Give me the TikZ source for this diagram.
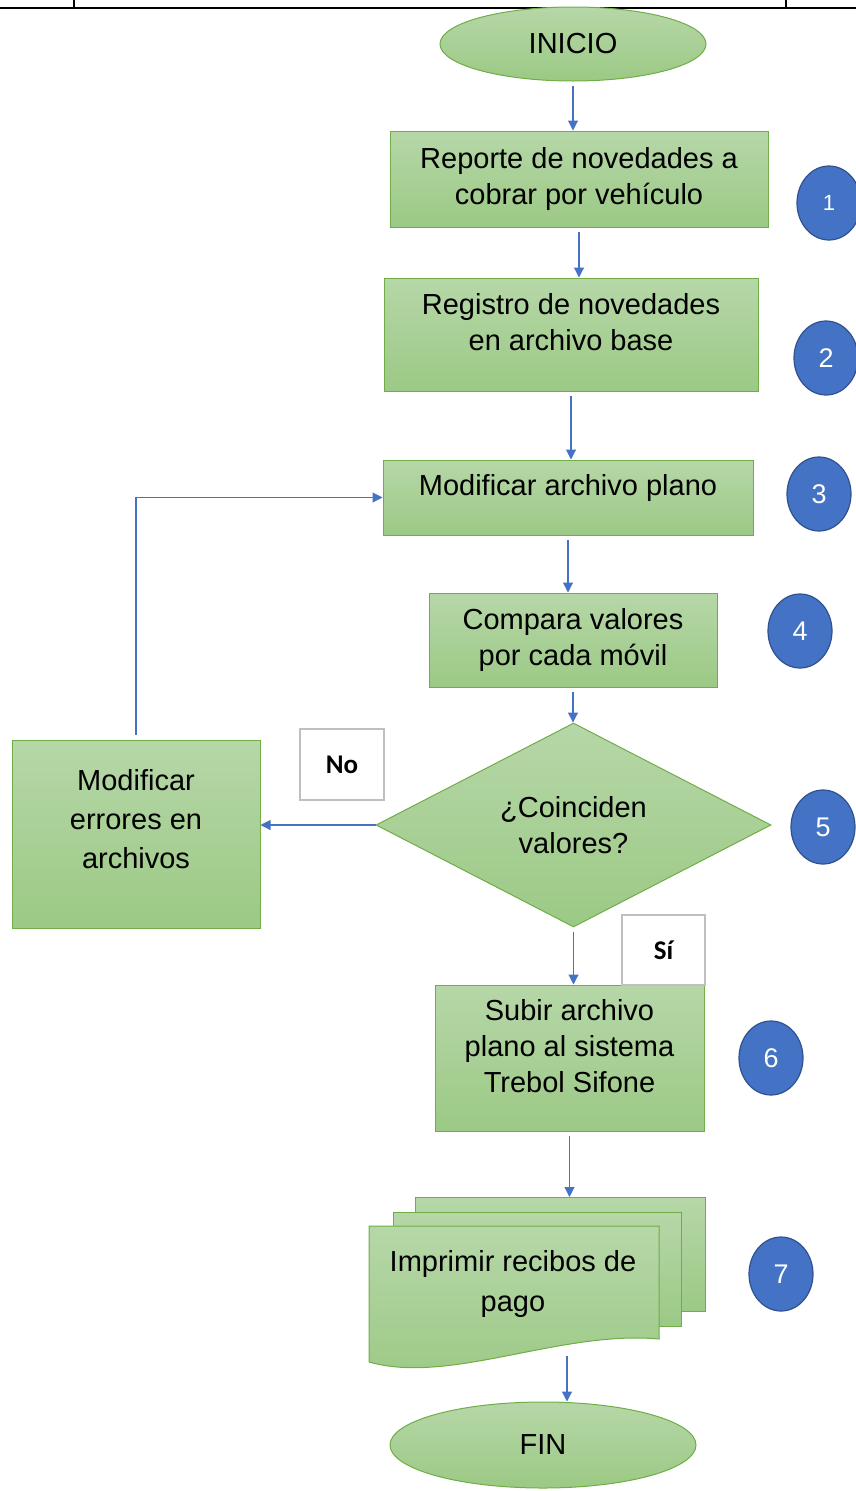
\documentclass[tikz,border=0pt]{standalone}
\usepackage{fontspec}
\setmainfont{Liberation Sans}
\newfontfamily\tagfont{Carlito}
\usetikzlibrary{arrows.meta,shapes.geometric}
\definecolor{GreenTop}{HTML}{B6D7A8}
\definecolor{GreenBot}{HTML}{9CC985}
\definecolor{GreenLine}{HTML}{70AD47}
\definecolor{Blue}{HTML}{4472C4}
\definecolor{BlueLine}{HTML}{2F528F}
\definecolor{Grey}{HTML}{BFBFBF}

\begin{document}
\begin{tikzpicture}[x=1pt,y=-1pt,
    proc/.style={draw=GreenLine,line width=1pt,top color=GreenTop,bottom color=GreenBot,
      inner sep=0pt,align=center,font=\fontsize{29}{36}\selectfont},
    term/.style={proc,ellipse},
    dec/.style={proc,diamond},
    num/.style={ellipse,draw=BlueLine,line width=1.2pt,fill=Blue,text=white,
      minimum width=64pt,minimum height=74pt,inner sep=0pt,font=\fontsize{27}{27}\selectfont},
    tag/.style={draw=Grey,line width=1.2pt,fill=white,minimum width=84pt,minimum height=71pt,
      inner sep=0pt,font=\tagfont\bfseries\fontsize{27}{27}\selectfont},
    arr/.style={-{Triangle[length=10pt,width=10pt]},Blue,line width=1.1pt}
  ]
    \useasboundingbox (0,0) rectangle (856,1491);
    \clip (0,0) rectangle (856,1491);
    % table border at the top
    \draw[line width=2.5pt] (0,8) -- (856,8);
    \draw[line width=2.5pt] (74,0) -- (74,8) (786,0) -- (786,8);

    \node[term,minimum width=266pt,minimum height=74pt] (ini) at (573,44) {INICIO};
    \node[proc,minimum width=378pt,minimum height=96pt] (rep) at (579,179) {Reporte de novedades a\\cobrar por vehículo};
    \node[proc,minimum width=374pt,minimum height=113pt,text depth=26pt] (reg) at (571,334.5) {Registro de novedades\\en archivo base};
    \node[proc,minimum width=370pt,minimum height=75pt,text depth=26pt] (mod) at (568,497.5) {Modificar archivo plano};
    \node[proc,minimum width=288pt,minimum height=94pt] (cmp) at (573,640) {Compara valores\\por cada móvil};
    \node[dec,minimum width=395pt,minimum height=194pt] (coin) at (573.5,825) {¿Coinciden\\valores?};
    \node[proc,minimum width=248pt,minimum height=188pt,text depth=30pt,
      font=\fontsize{29}{39}\selectfont] (fix) at (136,834) {Modificar\\errores en\\archivos};
    \node[proc,minimum width=269pt,minimum height=146pt,text depth=24pt] (up) at (569.5,1058) {Subir archivo\\plano al sistema\\Trebol Sifone};

    % multiple documents
    \draw[proc] (415,1197) rectangle (705,1311);
    \draw[proc] (393,1212) rectangle (681,1326);
    \draw[proc] (369,1226) -- (659,1226) -- (659,1339)
      .. controls (560,1330) and (450,1385) .. (369,1362) -- cycle;
    \node[align=center,font=\fontsize{29}{40}\selectfont] (prt) at (513,1284) {Imprimir recibos de\\pago};
    \coordinate (pin) at (568,1197);
    \coordinate (pout) at (567,1356);

    \node[term,minimum width=306pt,minimum height=86pt] (fin) at (543,1445) {FIN};

    \node[tag] (no) at (342,764.5) {No};
    \node[tag,minimum width=83pt,minimum height=70pt] (si) at (663.5,950) {Sí};

    \node[num,font=\fontsize{22}{22}\selectfont] (n1) at (829,203) {1};
    \node[num] (n2) at (826,358) {2};
    \node[num] (n3) at (819,494) {3};
    \node[num] (n4) at (800,631) {4};
    \node[num] (n5) at (823,827) {5};
    \node[num] (n6) at (771,1058) {6};
    \node[num] (n7) at (781,1274) {7};

    \foreach \a/\b in {ini/rep,rep/reg,reg/mod,mod/cmp,cmp/coin,coin/up}
      \draw[arr,shorten <=4pt] (\a.south) -- (\a.south |- \b.north);
    \draw[arr] (coin.west) -- (coin.west -| fix.east);
    \draw[arr] ([yshift=5pt]fix.north) |- (mod.west);
    \draw[arr,shorten <=4pt] (up.south) -- (up.south |- pin);
    \draw[arr] (pout) -- (pout |- fin.north);
  \end{tikzpicture}
\end{document}
